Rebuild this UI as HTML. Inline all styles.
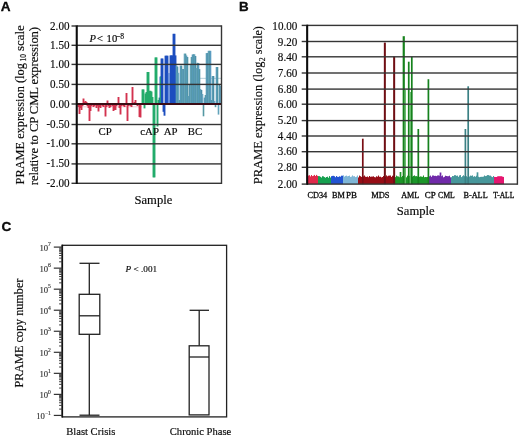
<!DOCTYPE html>
<html><head><meta charset="utf-8"><style>
html,body{margin:0;padding:0;background:#fff;}
svg{display:block;}
text{fill:#0a0a0a;stroke:#0a0a0a;stroke-width:0.16px;}
</style></head><body>
<svg width="520" height="437" viewBox="0 0 520 437">
<defs><filter id="bl" x="-5%" y="-5%" width="110%" height="110%"><feGaussianBlur stdDeviation="0.25"/></filter>
<filter id="gb" x="0" y="0" width="100%" height="100%"><feGaussianBlur stdDeviation="0.35"/></filter></defs>
<rect width="520" height="437" fill="#fff"/>
<g filter="url(#gb)">
<rect width="520" height="437" fill="#fff"/>
<g>
<text x="0.8" y="11.3" font-family="'Liberation Sans', sans-serif" font-weight="bold" font-size="13.6" style="stroke:#000;stroke-width:0.3px">A</text>
<text transform="translate(23.5,184.4) rotate(-90)" font-family="'Liberation Serif', serif" font-size="12.6" textLength="121.2" lengthAdjust="spacingAndGlyphs">PRAME expression (log</text>
<text transform="translate(25.6,61.6) rotate(-90)" font-family="'Liberation Serif', serif" font-size="7.8" textLength="7.6" lengthAdjust="spacingAndGlyphs">10</text>
<text transform="translate(23.5,51.1) rotate(-90)" font-family="'Liberation Serif', serif" font-size="12.6" textLength="25.9" lengthAdjust="spacingAndGlyphs">scale</text>
<text transform="translate(37.9,185.2) rotate(-90)" font-family="'Liberation Serif', serif" font-size="12.7" textLength="158.3">relative to CP CML expression)</text>
<rect x="199" y="77.8" width="22" height="1.1" fill="#bcd3dd"/>
<rect x="78" y="106.3" width="64" height="1.0" fill="#f0c4cc"/>
<g filter="url(#bl)">
<rect x="77.55" y="104.0" width="1.9" height="3.0" fill="#d3334f"/>
<rect x="78.55" y="104.0" width="1.9" height="10.0" fill="#d3334f"/>
<rect x="79.55" y="104.0" width="1.9" height="4.0" fill="#d3334f"/>
<rect x="80.55" y="104.0" width="1.9" height="6.0" fill="#d3334f"/>
<rect x="81.55" y="104.0" width="1.9" height="2.0" fill="#d3334f"/>
<rect x="82.55" y="98.5" width="1.9" height="5.5" fill="#d3334f"/>
<rect x="83.55" y="102.0" width="1.9" height="2.0" fill="#d3334f"/>
<rect x="84.55" y="101.0" width="1.9" height="3.0" fill="#d3334f"/>
<rect x="85.55" y="102.0" width="1.9" height="2.0" fill="#d3334f"/>
<rect x="86.55" y="104.0" width="1.9" height="2.0" fill="#d3334f"/>
<rect x="87.55" y="104.0" width="1.9" height="4.0" fill="#d3334f"/>
<rect x="88.55" y="104.0" width="1.9" height="17.0" fill="#d3334f"/>
<rect x="89.55" y="104.0" width="1.9" height="7.0" fill="#d3334f"/>
<rect x="90.55" y="104.0" width="1.9" height="2.0" fill="#d3334f"/>
<rect x="91.55" y="104.0" width="1.9" height="1.0" fill="#d3334f"/>
<rect x="92.55" y="104.0" width="1.9" height="3.0" fill="#d3334f"/>
<rect x="93.55" y="104.0" width="1.9" height="2.0" fill="#d3334f"/>
<rect x="94.55" y="104.0" width="1.9" height="1.0" fill="#d3334f"/>
<rect x="95.55" y="104.0" width="1.9" height="4.0" fill="#d3334f"/>
<rect x="96.55" y="104.0" width="1.9" height="2.0" fill="#d3334f"/>
<rect x="97.55" y="104.0" width="1.9" height="7.5" fill="#d3334f"/>
<rect x="98.55" y="104.0" width="1.9" height="3.0" fill="#d3334f"/>
<rect x="99.55" y="104.0" width="1.9" height="4.0" fill="#d3334f"/>
<rect x="100.55" y="104.0" width="1.9" height="1.0" fill="#d3334f"/>
<rect x="101.55" y="104.0" width="1.9" height="2.0" fill="#d3334f"/>
<rect x="102.55" y="104.0" width="1.9" height="3.0" fill="#d3334f"/>
<rect x="103.55" y="104.0" width="1.9" height="1.0" fill="#d3334f"/>
<rect x="104.55" y="104.0" width="1.9" height="12.5" fill="#d3334f"/>
<rect x="105.55" y="104.0" width="1.9" height="3.0" fill="#d3334f"/>
<rect x="106.55" y="100.5" width="1.9" height="3.5" fill="#d3334f"/>
<rect x="107.55" y="104.0" width="1.9" height="2.0" fill="#d3334f"/>
<rect x="108.55" y="104.0" width="1.9" height="4.0" fill="#d3334f"/>
<rect x="109.55" y="104.0" width="1.9" height="3.0" fill="#d3334f"/>
<rect x="110.55" y="104.0" width="1.9" height="1.0" fill="#d3334f"/>
<rect x="111.55" y="104.0" width="1.9" height="2.0" fill="#d3334f"/>
<rect x="112.55" y="104.0" width="1.9" height="7.0" fill="#d3334f"/>
<rect x="113.55" y="104.0" width="1.9" height="6.0" fill="#d3334f"/>
<rect x="114.55" y="104.0" width="1.9" height="6.0" fill="#d3334f"/>
<rect x="115.55" y="104.0" width="1.9" height="2.0" fill="#d3334f"/>
<rect x="116.55" y="104.0" width="1.9" height="1.0" fill="#d3334f"/>
<rect x="117.55" y="97.0" width="1.9" height="7.0" fill="#d3334f"/>
<rect x="118.55" y="104.0" width="1.9" height="4.0" fill="#d3334f"/>
<rect x="119.55" y="104.0" width="1.9" height="10.5" fill="#d3334f"/>
<rect x="120.55" y="104.0" width="1.9" height="2.0" fill="#d3334f"/>
<rect x="121.55" y="104.0" width="1.9" height="1.0" fill="#d3334f"/>
<rect x="122.55" y="104.0" width="1.9" height="2.0" fill="#d3334f"/>
<rect x="123.55" y="104.0" width="1.9" height="3.0" fill="#d3334f"/>
<rect x="124.55" y="104.0" width="1.9" height="1.0" fill="#d3334f"/>
<rect x="125.55" y="93.0" width="1.9" height="11.0" fill="#d3334f"/>
<rect x="126.55" y="104.0" width="1.9" height="17.0" fill="#d3334f"/>
<rect x="127.55" y="104.0" width="1.9" height="2.0" fill="#d3334f"/>
<rect x="128.55" y="104.0" width="1.9" height="1.0" fill="#d3334f"/>
<rect x="129.55" y="104.0" width="1.9" height="2.0" fill="#d3334f"/>
<rect x="130.55" y="104.0" width="1.9" height="3.0" fill="#d3334f"/>
<rect x="131.55" y="87.0" width="1.9" height="17.0" fill="#d3334f"/>
<rect x="132.55" y="104.0" width="1.9" height="0.5" fill="#d3334f"/>
<rect x="133.55" y="102.0" width="1.9" height="2.0" fill="#d3334f"/>
<rect x="134.55" y="100.0" width="1.9" height="4.0" fill="#d3334f"/>
<rect x="135.55" y="104.0" width="1.9" height="1.0" fill="#d3334f"/>
<rect x="136.55" y="104.0" width="1.9" height="2.0" fill="#d3334f"/>
<rect x="137.55" y="104.0" width="1.9" height="1.0" fill="#d3334f"/>
<rect x="138.55" y="104.0" width="1.9" height="13.0" fill="#d3334f"/>
<rect x="139.55" y="104.0" width="1.9" height="13.5" fill="#d3334f"/>
<rect x="140.55" y="103.0" width="1.9" height="1.0" fill="#d3334f"/>
<rect x="141.55" y="89.4" width="1.9" height="14.6" fill="#22ac6c"/>
<rect x="142.55" y="89.4" width="1.9" height="14.6" fill="#22ac6c"/>
<rect x="143.55" y="104.0" width="1.9" height="4.4" fill="#22ac6c"/>
<rect x="144.55" y="93.5" width="1.9" height="10.5" fill="#22ac6c"/>
<rect x="145.55" y="92.0" width="1.9" height="12.0" fill="#22ac6c"/>
<rect x="146.55" y="72.0" width="1.9" height="32.0" fill="#22ac6c"/>
<rect x="147.55" y="72.0" width="1.9" height="32.0" fill="#22ac6c"/>
<rect x="148.55" y="90.8" width="1.9" height="13.2" fill="#22ac6c"/>
<rect x="149.55" y="90.8" width="1.9" height="13.2" fill="#22ac6c"/>
<rect x="150.55" y="91.5" width="1.9" height="12.5" fill="#22ac6c"/>
<rect x="151.55" y="97.0" width="1.9" height="7.0" fill="#22ac6c"/>
<rect x="152.55" y="104.0" width="1.9" height="73.4" fill="#22ac6c"/>
<rect x="153.55" y="104.0" width="1.9" height="73.4" fill="#22ac6c"/>
<rect x="154.55" y="57.4" width="1.9" height="46.6" fill="#22ac6c"/>
<rect x="155.55" y="57.4" width="1.9" height="46.6" fill="#22ac6c"/>
<rect x="156.55" y="104.0" width="1.9" height="22.5" fill="#22ac6c"/>
<rect x="157.55" y="100.0" width="1.9" height="4.0" fill="#22ac6c"/>
<rect x="158.55" y="97.6" width="1.9" height="6.4" fill="#22ac6c"/>
<rect x="159.55" y="76.6" width="1.9" height="27.4" fill="#1f4fbf"/>
<rect x="160.55" y="58.5" width="1.9" height="45.5" fill="#1f4fbf"/>
<rect x="161.55" y="58.5" width="1.9" height="45.5" fill="#1f4fbf"/>
<rect x="162.55" y="104.0" width="1.9" height="7.8" fill="#1f4fbf"/>
<rect x="163.55" y="104.0" width="1.9" height="11.7" fill="#1f4fbf"/>
<rect x="164.55" y="55.7" width="1.9" height="48.3" fill="#1f4fbf"/>
<rect x="165.55" y="55.7" width="1.9" height="48.3" fill="#1f4fbf"/>
<rect x="166.55" y="55.7" width="1.9" height="48.3" fill="#1f4fbf"/>
<rect x="167.55" y="100.0" width="1.9" height="4.0" fill="#1f4fbf"/>
<rect x="168.55" y="100.0" width="1.9" height="4.0" fill="#1f4fbf"/>
<rect x="169.55" y="55.4" width="1.9" height="48.6" fill="#1f4fbf"/>
<rect x="170.55" y="55.4" width="1.9" height="48.6" fill="#1f4fbf"/>
<rect x="171.55" y="55.4" width="1.9" height="48.6" fill="#1f4fbf"/>
<rect x="172.55" y="33.8" width="1.9" height="70.2" fill="#1f4fbf"/>
<rect x="173.55" y="33.8" width="1.9" height="70.2" fill="#1f4fbf"/>
<rect x="174.55" y="55.4" width="1.9" height="48.6" fill="#1f4fbf"/>
<rect x="175.70" y="65.5" width="1.6" height="38.5" fill="#62a3bb"/>
<rect x="176.70" y="66.5" width="1.6" height="37.5" fill="#4b8fa8"/>
<rect x="177.70" y="72.8" width="1.6" height="31.2" fill="#6aa8c2"/>
<rect x="178.70" y="100.0" width="1.6" height="4.0" fill="#5598a3"/>
<rect x="179.70" y="65.6" width="1.6" height="38.4" fill="#5a9cc0"/>
<rect x="180.70" y="65.6" width="1.6" height="38.4" fill="#4f95a6"/>
<rect x="181.70" y="69.0" width="1.6" height="35.0" fill="#62a3bb"/>
<rect x="182.70" y="69.0" width="1.6" height="35.0" fill="#4b8fa8"/>
<rect x="183.70" y="53.6" width="1.6" height="50.4" fill="#6aa8c2"/>
<rect x="184.70" y="53.6" width="1.6" height="50.4" fill="#5598a3"/>
<rect x="185.70" y="55.5" width="1.6" height="48.5" fill="#5a9cc0"/>
<rect x="186.70" y="57.0" width="1.6" height="47.0" fill="#4f95a6"/>
<rect x="187.70" y="96.0" width="1.6" height="8.0" fill="#62a3bb"/>
<rect x="188.70" y="84.0" width="1.6" height="20.0" fill="#4b8fa8"/>
<rect x="189.70" y="65.0" width="1.6" height="39.0" fill="#6aa8c2"/>
<rect x="190.70" y="57.0" width="1.6" height="47.0" fill="#5598a3"/>
<rect x="191.70" y="54.5" width="1.6" height="49.5" fill="#5a9cc0"/>
<rect x="192.70" y="54.2" width="1.6" height="49.8" fill="#4f95a6"/>
<rect x="193.70" y="54.3" width="1.6" height="49.7" fill="#62a3bb"/>
<rect x="194.70" y="56.0" width="1.6" height="48.0" fill="#4b8fa8"/>
<rect x="195.70" y="68.0" width="1.6" height="36.0" fill="#6aa8c2"/>
<rect x="196.70" y="62.8" width="1.6" height="41.2" fill="#5598a3"/>
<rect x="197.70" y="63.0" width="1.6" height="41.0" fill="#5a9cc0"/>
<rect x="198.70" y="69.1" width="1.6" height="34.9" fill="#4f95a6"/>
<rect x="199.70" y="89.0" width="1.6" height="15.0" fill="#62a3bb"/>
<rect x="200.70" y="90.0" width="1.6" height="14.0" fill="#4b8fa8"/>
<rect x="201.70" y="94.0" width="1.6" height="10.0" fill="#6aa8c2"/>
<rect x="202.70" y="104.0" width="1.6" height="12.3" fill="#5598a3"/>
<rect x="203.70" y="97.6" width="1.6" height="6.4" fill="#5a9cc0"/>
<rect x="204.70" y="95.0" width="1.6" height="9.0" fill="#4f95a6"/>
<rect x="205.70" y="53.1" width="1.6" height="50.9" fill="#62a3bb"/>
<rect x="206.70" y="53.0" width="1.6" height="51.0" fill="#4b8fa8"/>
<rect x="207.70" y="50.8" width="1.6" height="53.2" fill="#6aa8c2"/>
<rect x="208.70" y="50.8" width="1.6" height="53.2" fill="#5598a3"/>
<rect x="209.70" y="50.8" width="1.6" height="53.2" fill="#5a9cc0"/>
<rect x="210.70" y="100.0" width="1.6" height="4.0" fill="#4f95a6"/>
<rect x="211.70" y="76.0" width="1.6" height="28.0" fill="#62a3bb"/>
<rect x="212.70" y="76.0" width="1.6" height="28.0" fill="#4b8fa8"/>
<rect x="213.70" y="101.0" width="1.6" height="3.0" fill="#6aa8c2"/>
<rect x="214.70" y="104.0" width="1.6" height="3.2" fill="#5598a3"/>
<rect x="215.70" y="67.0" width="1.6" height="37.0" fill="#5a9cc0"/>
<rect x="216.70" y="67.0" width="1.6" height="37.0" fill="#4f95a6"/>
<rect x="217.70" y="104.0" width="1.6" height="10.6" fill="#62a3bb"/>
<rect x="218.70" y="84.0" width="1.6" height="20.0" fill="#4b8fa8"/>
<rect x="219.70" y="86.0" width="1.6" height="18.0" fill="#6aa8c2"/>
<rect x="160" y="76.6" width="1" height="27.4" fill="#2a9486"/>
<rect x="167.9" y="73" width="2.0" height="31" fill="#6b90da"/>
</g>
<rect x="77.0" y="25.30" width="144.5" height="1.4" fill="#363636"/>
<rect x="71.5" y="25.30" width="5" height="1.4" fill="#363636"/>
<text transform="translate(69.5,29.55) scale(0.945,1)" text-anchor="end" font-family="'Liberation Serif', serif" font-size="11.75">2.00</text>
<rect x="77.0" y="44.60" width="144.5" height="1.4" fill="#363636"/>
<rect x="71.5" y="44.60" width="5" height="1.4" fill="#363636"/>
<text transform="translate(69.5,48.85) scale(0.945,1)" text-anchor="end" font-family="'Liberation Serif', serif" font-size="11.75">1.50</text>
<rect x="77.0" y="63.70" width="144.5" height="1.4" fill="#363636"/>
<rect x="71.5" y="63.70" width="5" height="1.4" fill="#363636"/>
<text transform="translate(69.5,67.95) scale(0.945,1)" text-anchor="end" font-family="'Liberation Serif', serif" font-size="11.75">1.00</text>
<rect x="77.0" y="83.70" width="144.5" height="1.4" fill="#363636"/>
<rect x="71.5" y="83.70" width="5" height="1.4" fill="#363636"/>
<text transform="translate(69.5,87.95) scale(0.945,1)" text-anchor="end" font-family="'Liberation Serif', serif" font-size="11.75">0.50</text>
<rect x="77.0" y="103.00" width="144.5" height="2" fill="#3a0d14"/>
<rect x="71.5" y="103.30" width="5" height="1.4" fill="#363636"/>
<text transform="translate(69.5,107.55) scale(0.945,1)" text-anchor="end" font-family="'Liberation Serif', serif" font-size="11.75">0.00</text>
<rect x="77.0" y="123.80" width="144.5" height="1.4" fill="#363636"/>
<rect x="71.5" y="123.80" width="5" height="1.4" fill="#363636"/>
<text transform="translate(69.5,128.05) scale(0.945,1)" text-anchor="end" font-family="'Liberation Serif', serif" font-size="11.75">-0.50</text>
<rect x="77.0" y="143.10" width="144.5" height="1.4" fill="#363636"/>
<rect x="71.5" y="143.10" width="5" height="1.4" fill="#363636"/>
<text transform="translate(69.5,147.35) scale(0.945,1)" text-anchor="end" font-family="'Liberation Serif', serif" font-size="11.75">-1.00</text>
<rect x="77.0" y="163.20" width="144.5" height="1.4" fill="#363636"/>
<rect x="71.5" y="163.20" width="5" height="1.4" fill="#363636"/>
<text transform="translate(69.5,167.45) scale(0.945,1)" text-anchor="end" font-family="'Liberation Serif', serif" font-size="11.75">-1.50</text>
<rect x="77.0" y="182.60" width="144.5" height="1.4" fill="#363636"/>
<rect x="71.5" y="182.60" width="5" height="1.4" fill="#363636"/>
<text transform="translate(69.5,186.85) scale(0.945,1)" text-anchor="end" font-family="'Liberation Serif', serif" font-size="11.75">-2.00</text>
<rect x="75.7" y="25.30" width="2.1" height="158.70" fill="#111"/>
<rect x="220.8" y="25.30" width="1.4" height="158.70" fill="#363636"/>
<text x="98.5" y="135" font-family="'Liberation Serif', serif" font-size="10.8">CP</text>
<text x="140.3" y="135" font-family="'Liberation Serif', serif" font-size="10.8">cAP</text>
<text x="163.8" y="135" font-family="'Liberation Serif', serif" font-size="10.8">AP</text>
<text x="187.8" y="135" font-family="'Liberation Serif', serif" font-size="10.8">BC</text>
<text x="89.4" y="41.6" font-family="'Liberation Serif', serif" font-size="10.6" font-style="italic">P</text>
<text x="96.9" y="41.6" font-family="'Liberation Serif', serif" font-size="10.6">&lt;</text>
<text x="106.6" y="41.6" font-family="'Liberation Serif', serif" font-size="10.6">10</text>
<text x="116.0" y="38.6" font-family="'Liberation Serif', serif" font-size="7.6">&#8722;8</text>
<text x="134.5" y="204.2" font-family="'Liberation Serif', serif" font-size="12.6">Sample</text>
</g>
<g>
<text x="239.0" y="10.6" font-family="'Liberation Sans', sans-serif" font-weight="bold" font-size="13.4" style="stroke:#000;stroke-width:0.3px">B</text>
<text transform="translate(262.2,184.2) rotate(-90)" font-family="'Liberation Serif', serif" font-size="12.45" textLength="122.7" lengthAdjust="spacingAndGlyphs">PRAME expression (log</text>
<text transform="translate(264.8,61.2) rotate(-90)" font-family="'Liberation Serif', serif" font-size="7.8" textLength="3.9" lengthAdjust="spacingAndGlyphs">2</text>
<text transform="translate(262.2,54.2) rotate(-90)" font-family="'Liberation Serif', serif" font-size="12.45" textLength="28.0" lengthAdjust="spacingAndGlyphs">scale)</text>
<g filter="url(#bl)">
<rect x="308" y="175.6" width="1" height="8.5" fill="#e0294b"/>
<rect x="309" y="175.2" width="1" height="8.9" fill="#e0294b"/>
<rect x="310" y="176.4" width="1" height="7.7" fill="#e0294b"/>
<rect x="311" y="175.0" width="1" height="9.1" fill="#e0294b"/>
<rect x="312" y="176.1" width="1" height="8.0" fill="#e0294b"/>
<rect x="313" y="175.7" width="1" height="8.4" fill="#e0294b"/>
<rect x="314" y="174.9" width="1" height="9.2" fill="#e0294b"/>
<rect x="315" y="176.0" width="1" height="8.1" fill="#e0294b"/>
<rect x="316" y="174.9" width="1" height="9.2" fill="#e0294b"/>
<rect x="317" y="175.8" width="1" height="8.3" fill="#e0294b"/>
<rect x="318" y="176.1" width="1" height="8.0" fill="#15a04f"/>
<rect x="319" y="176.2" width="1" height="7.9" fill="#15a04f"/>
<rect x="320" y="176.8" width="1" height="7.3" fill="#15a04f"/>
<rect x="321" y="177.5" width="1" height="6.6" fill="#15a04f"/>
<rect x="322" y="176.2" width="1" height="7.9" fill="#15a04f"/>
<rect x="323" y="176.4" width="1" height="7.7" fill="#15a04f"/>
<rect x="324" y="177.1" width="1" height="7.0" fill="#15a04f"/>
<rect x="325" y="177.7" width="1" height="6.4" fill="#15a04f"/>
<rect x="326" y="177.0" width="1" height="7.1" fill="#15a04f"/>
<rect x="327" y="176.7" width="1" height="7.4" fill="#15a04f"/>
<rect x="328" y="177.8" width="1" height="6.3" fill="#15a04f"/>
<rect x="329" y="176.1" width="1" height="8.0" fill="#15a04f"/>
<rect x="330" y="177.5" width="1" height="6.6" fill="#15a04f"/>
<rect x="331" y="176.2" width="1" height="7.9" fill="#2152d2"/>
<rect x="332" y="175.9" width="1" height="8.2" fill="#2152d2"/>
<rect x="333" y="175.8" width="1" height="8.3" fill="#2152d2"/>
<rect x="334" y="176.2" width="1" height="7.9" fill="#2152d2"/>
<rect x="335" y="177.2" width="1" height="6.9" fill="#2152d2"/>
<rect x="336" y="176.0" width="1" height="8.1" fill="#2152d2"/>
<rect x="337" y="176.8" width="1" height="7.3" fill="#2152d2"/>
<rect x="338" y="176.9" width="1" height="7.2" fill="#2152d2"/>
<rect x="339" y="176.3" width="1" height="7.8" fill="#2152d2"/>
<rect x="340" y="176.7" width="1" height="7.4" fill="#2152d2"/>
<rect x="341" y="175.7" width="1" height="8.4" fill="#2152d2"/>
<rect x="342" y="175.7" width="1" height="8.4" fill="#2152d2"/>
<rect x="343" y="175.3" width="1" height="8.8" fill="#7fb6d6"/>
<rect x="344" y="176.6" width="1" height="7.5" fill="#7fb6d6"/>
<rect x="345" y="175.9" width="1" height="8.2" fill="#7fb6d6"/>
<rect x="346" y="175.6" width="1" height="8.5" fill="#7fb6d6"/>
<rect x="347" y="176.3" width="1" height="7.8" fill="#7fb6d6"/>
<rect x="348" y="176.0" width="1" height="8.1" fill="#7fb6d6"/>
<rect x="349" y="175.6" width="1" height="8.5" fill="#7fb6d6"/>
<rect x="350" y="176.9" width="1" height="7.2" fill="#7fb6d6"/>
<rect x="351" y="176.6" width="1" height="7.5" fill="#7fb6d6"/>
<rect x="352" y="175.4" width="1" height="8.7" fill="#7fb6d6"/>
<rect x="353" y="176.3" width="1" height="7.8" fill="#7fb6d6"/>
<rect x="354" y="176.2" width="1" height="7.9" fill="#7fb6d6"/>
<rect x="355" y="177.1" width="1" height="7.0" fill="#7fb6d6"/>
<rect x="356" y="176.7" width="1" height="7.4" fill="#7fb6d6"/>
<rect x="357" y="175.5" width="1" height="8.6" fill="#7fb6d6"/>
<rect x="358" y="177.4" width="1" height="6.7" fill="#971018"/>
<rect x="359" y="175.6" width="1" height="8.5" fill="#971018"/>
<rect x="360" y="176.2" width="1" height="7.9" fill="#971018"/>
<rect x="361" y="176.9" width="1" height="7.2" fill="#971018"/>
<rect x="362" y="175.7" width="1" height="8.4" fill="#971018"/>
<rect x="363" y="176.4" width="1" height="7.7" fill="#971018"/>
<rect x="364" y="175.5" width="1" height="8.6" fill="#971018"/>
<rect x="365" y="176.7" width="1" height="7.4" fill="#971018"/>
<rect x="366" y="176.9" width="1" height="7.2" fill="#971018"/>
<rect x="367" y="176.5" width="1" height="7.6" fill="#971018"/>
<rect x="368" y="177.2" width="1" height="6.9" fill="#971018"/>
<rect x="369" y="176.0" width="1" height="8.1" fill="#971018"/>
<rect x="370" y="176.8" width="1" height="7.3" fill="#971018"/>
<rect x="371" y="176.6" width="1" height="7.5" fill="#971018"/>
<rect x="372" y="176.6" width="1" height="7.5" fill="#971018"/>
<rect x="373" y="176.3" width="1" height="7.8" fill="#971018"/>
<rect x="374" y="177.1" width="1" height="7.0" fill="#971018"/>
<rect x="375" y="177.3" width="1" height="6.8" fill="#971018"/>
<rect x="376" y="176.3" width="1" height="7.8" fill="#971018"/>
<rect x="377" y="176.7" width="1" height="7.4" fill="#971018"/>
<rect x="378" y="175.5" width="1" height="8.6" fill="#971018"/>
<rect x="379" y="176.8" width="1" height="7.3" fill="#971018"/>
<rect x="380" y="176.7" width="1" height="7.4" fill="#971018"/>
<rect x="381" y="177.4" width="1" height="6.7" fill="#971018"/>
<rect x="382" y="177.0" width="1" height="7.1" fill="#971018"/>
<rect x="383" y="176.0" width="1" height="8.1" fill="#971018"/>
<rect x="384" y="176.2" width="1" height="7.9" fill="#971018"/>
<rect x="385" y="176.7" width="1" height="7.4" fill="#971018"/>
<rect x="386" y="175.4" width="1" height="8.7" fill="#971018"/>
<rect x="387" y="176.3" width="1" height="7.8" fill="#971018"/>
<rect x="388" y="175.7" width="1" height="8.4" fill="#971018"/>
<rect x="389" y="175.6" width="1" height="8.5" fill="#971018"/>
<rect x="390" y="175.5" width="1" height="8.6" fill="#971018"/>
<rect x="391" y="176.9" width="1" height="7.2" fill="#971018"/>
<rect x="392" y="175.7" width="1" height="8.4" fill="#971018"/>
<rect x="393" y="175.9" width="1" height="8.2" fill="#971018"/>
<rect x="394" y="176.2" width="1" height="7.9" fill="#1f9629"/>
<rect x="395" y="177.1" width="1" height="7.0" fill="#1f9629"/>
<rect x="396" y="175.6" width="1" height="8.5" fill="#1f9629"/>
<rect x="397" y="176.3" width="1" height="7.8" fill="#1f9629"/>
<rect x="398" y="176.5" width="1" height="7.6" fill="#1f9629"/>
<rect x="399" y="177.2" width="1" height="6.9" fill="#1f9629"/>
<rect x="400" y="177.0" width="1" height="7.1" fill="#1f9629"/>
<rect x="401" y="177.1" width="1" height="7.0" fill="#1f9629"/>
<rect x="402" y="176.0" width="1" height="8.1" fill="#1f9629"/>
<rect x="403" y="176.2" width="1" height="7.9" fill="#1f9629"/>
<rect x="404" y="176.1" width="1" height="8.0" fill="#1f9629"/>
<rect x="405" y="177.2" width="1" height="6.9" fill="#1f9629"/>
<rect x="406" y="177.3" width="1" height="6.8" fill="#1f9629"/>
<rect x="407" y="175.7" width="1" height="8.4" fill="#1f9629"/>
<rect x="408" y="175.8" width="1" height="8.3" fill="#1f9629"/>
<rect x="409" y="175.9" width="1" height="8.2" fill="#1f9629"/>
<rect x="410" y="175.9" width="1" height="8.2" fill="#1f9629"/>
<rect x="411" y="176.4" width="1" height="7.7" fill="#1f9629"/>
<rect x="412" y="176.6" width="1" height="7.5" fill="#1f9629"/>
<rect x="413" y="175.9" width="1" height="8.2" fill="#1f9629"/>
<rect x="414" y="175.4" width="1" height="8.7" fill="#1f9629"/>
<rect x="415" y="176.2" width="1" height="7.9" fill="#1f9629"/>
<rect x="416" y="176.1" width="1" height="8.0" fill="#1f9629"/>
<rect x="417" y="176.5" width="1" height="7.6" fill="#1f9629"/>
<rect x="418" y="177.3" width="1" height="6.8" fill="#1f9629"/>
<rect x="419" y="176.8" width="1" height="7.3" fill="#1f9629"/>
<rect x="420" y="176.4" width="1" height="7.7" fill="#1f9629"/>
<rect x="421" y="176.6" width="1" height="7.5" fill="#1f9629"/>
<rect x="422" y="176.8" width="1" height="7.3" fill="#1f9629"/>
<rect x="423" y="175.5" width="1" height="8.6" fill="#1f9629"/>
<rect x="424" y="177.2" width="1" height="6.9" fill="#1f9629"/>
<rect x="425" y="177.0" width="1" height="7.1" fill="#1f9629"/>
<rect x="426" y="177.1" width="1" height="7.0" fill="#1f9629"/>
<rect x="427" y="177.0" width="1" height="7.1" fill="#1f9629"/>
<rect x="428" y="176.2" width="1" height="7.9" fill="#1f9629"/>
<rect x="429" y="176.3" width="1" height="7.8" fill="#6f2aa9"/>
<rect x="430" y="175.6" width="1" height="8.5" fill="#6f2aa9"/>
<rect x="431" y="176.8" width="1" height="7.3" fill="#6f2aa9"/>
<rect x="432" y="175.5" width="1" height="8.6" fill="#6f2aa9"/>
<rect x="433" y="175.5" width="1" height="8.6" fill="#6f2aa9"/>
<rect x="434" y="175.9" width="1" height="8.2" fill="#6f2aa9"/>
<rect x="435" y="175.8" width="1" height="8.3" fill="#6f2aa9"/>
<rect x="436" y="176.1" width="1" height="8.0" fill="#6f2aa9"/>
<rect x="437" y="175.5" width="1" height="8.6" fill="#6f2aa9"/>
<rect x="438" y="175.4" width="1" height="8.7" fill="#6f2aa9"/>
<rect x="439" y="175.7" width="1" height="8.4" fill="#6f2aa9"/>
<rect x="440" y="175.6" width="1" height="8.5" fill="#6f2aa9"/>
<rect x="441" y="176.2" width="1" height="7.9" fill="#6f2aa9"/>
<rect x="442" y="175.5" width="1" height="8.6" fill="#6f2aa9"/>
<rect x="443" y="177.3" width="1" height="6.8" fill="#6f2aa9"/>
<rect x="444" y="176.8" width="1" height="7.3" fill="#6f2aa9"/>
<rect x="445" y="175.7" width="1" height="8.4" fill="#6f2aa9"/>
<rect x="446" y="176.0" width="1" height="8.1" fill="#6f2aa9"/>
<rect x="447" y="176.2" width="1" height="7.9" fill="#6f2aa9"/>
<rect x="448" y="176.2" width="1" height="7.9" fill="#6f2aa9"/>
<rect x="449" y="175.7" width="1" height="8.4" fill="#6f2aa9"/>
<rect x="450" y="177.3" width="1" height="6.8" fill="#6f2aa9"/>
<rect x="451" y="177.2" width="1" height="6.9" fill="#47979b"/>
<rect x="452" y="176.0" width="1" height="8.1" fill="#47979b"/>
<rect x="453" y="176.1" width="1" height="8.0" fill="#47979b"/>
<rect x="454" y="175.2" width="1" height="8.9" fill="#47979b"/>
<rect x="455" y="175.2" width="1" height="8.9" fill="#47979b"/>
<rect x="456" y="175.8" width="1" height="8.3" fill="#47979b"/>
<rect x="457" y="175.6" width="1" height="8.5" fill="#47979b"/>
<rect x="458" y="176.8" width="1" height="7.3" fill="#47979b"/>
<rect x="459" y="175.4" width="1" height="8.7" fill="#47979b"/>
<rect x="460" y="175.1" width="1" height="9.0" fill="#47979b"/>
<rect x="461" y="177.1" width="1" height="7.0" fill="#47979b"/>
<rect x="462" y="176.2" width="1" height="7.9" fill="#47979b"/>
<rect x="463" y="175.3" width="1" height="8.8" fill="#47979b"/>
<rect x="464" y="176.2" width="1" height="7.9" fill="#47979b"/>
<rect x="465" y="175.1" width="1" height="9.0" fill="#47979b"/>
<rect x="466" y="176.2" width="1" height="7.9" fill="#47979b"/>
<rect x="467" y="177.2" width="1" height="6.9" fill="#47979b"/>
<rect x="468" y="176.9" width="1" height="7.2" fill="#47979b"/>
<rect x="469" y="176.5" width="1" height="7.6" fill="#47979b"/>
<rect x="470" y="175.6" width="1" height="8.5" fill="#47979b"/>
<rect x="471" y="175.8" width="1" height="8.3" fill="#47979b"/>
<rect x="472" y="175.4" width="1" height="8.7" fill="#47979b"/>
<rect x="473" y="176.7" width="1" height="7.4" fill="#47979b"/>
<rect x="474" y="176.2" width="1" height="7.9" fill="#47979b"/>
<rect x="475" y="176.7" width="1" height="7.4" fill="#47979b"/>
<rect x="476" y="175.7" width="1" height="8.4" fill="#47979b"/>
<rect x="477" y="175.5" width="1" height="8.6" fill="#47979b"/>
<rect x="478" y="176.8" width="1" height="7.3" fill="#47979b"/>
<rect x="479" y="177.2" width="1" height="6.9" fill="#47979b"/>
<rect x="480" y="176.9" width="1" height="7.2" fill="#47979b"/>
<rect x="481" y="176.8" width="1" height="7.3" fill="#47979b"/>
<rect x="482" y="176.8" width="1" height="7.3" fill="#47979b"/>
<rect x="483" y="176.6" width="1" height="7.5" fill="#47979b"/>
<rect x="484" y="175.5" width="1" height="8.6" fill="#47979b"/>
<rect x="485" y="176.1" width="1" height="8.0" fill="#47979b"/>
<rect x="486" y="175.8" width="1" height="8.3" fill="#47979b"/>
<rect x="487" y="175.1" width="1" height="9.0" fill="#47979b"/>
<rect x="488" y="175.1" width="1" height="9.0" fill="#47979b"/>
<rect x="489" y="175.6" width="1" height="8.5" fill="#47979b"/>
<rect x="490" y="175.6" width="1" height="8.5" fill="#47979b"/>
<rect x="491" y="176.5" width="1" height="7.6" fill="#47979b"/>
<rect x="492" y="177.1" width="1" height="7.0" fill="#47979b"/>
<rect x="493" y="176.0" width="1" height="8.1" fill="#47979b"/>
<rect x="494" y="176.9" width="1" height="7.2" fill="#e5176f"/>
<rect x="495" y="177.0" width="1" height="7.1" fill="#e5176f"/>
<rect x="496" y="177.0" width="1" height="7.1" fill="#e5176f"/>
<rect x="497" y="176.4" width="1" height="7.7" fill="#e5176f"/>
<rect x="498" y="176.2" width="1" height="7.9" fill="#e5176f"/>
<rect x="499" y="176.2" width="1" height="7.9" fill="#e5176f"/>
<rect x="500" y="176.2" width="1" height="7.9" fill="#e5176f"/>
<rect x="501" y="176.2" width="1" height="7.9" fill="#e5176f"/>
<rect x="502" y="176.6" width="1" height="7.5" fill="#e5176f"/>
<rect x="503" y="176.9" width="1" height="7.2" fill="#e5176f"/>
<rect x="361.95" y="138.7" width="1.7" height="45.4" fill="#7a0c14"/>
<rect x="383.85" y="42.6" width="2.0" height="141.5" fill="#700c12"/>
<rect x="393.15" y="56.6" width="2.0" height="127.5" fill="#700c12"/>
<rect x="399.65" y="172.0" width="1.7" height="12.1" fill="#1f9629"/>
<rect x="402.65" y="36.2" width="2.2" height="147.9" fill="#17821f"/>
<rect x="407.90" y="61.7" width="1.7" height="122.4" fill="#17821f"/>
<rect x="410.95" y="56.7" width="1.7" height="127.4" fill="#17821f"/>
<rect x="417.45" y="129.0" width="1.7" height="55.1" fill="#17821f"/>
<rect x="427.55" y="79.2" width="1.7" height="104.9" fill="#17821f"/>
<rect x="439.65" y="172.5" width="1.7" height="11.6" fill="#6f2aa9"/>
<rect x="464.55" y="129.0" width="1.7" height="55.1" fill="#3a8084"/>
<rect x="467.35" y="86.3" width="1.7" height="97.8" fill="#3a8084"/>
<rect x="476.65" y="172.3" width="1.7" height="11.8" fill="#47979b"/>
<rect x="404.65" y="90.0" width="1.3" height="94.1" fill="#62b866"/>
<rect x="409.65" y="92.0" width="1.3" height="92.1" fill="#62b866"/>
</g>
<rect x="307.0" y="24.70" width="210.4" height="1.4" fill="#363636"/>
<rect x="301.7" y="24.70" width="5" height="1.4" fill="#363636"/>
<text transform="translate(297.3,29.95) scale(0.945,1)" text-anchor="end" font-family="'Liberation Serif', serif" font-size="11.75">10.00</text>
<rect x="307.0" y="40.80" width="210.4" height="1.4" fill="#363636"/>
<rect x="301.7" y="40.80" width="5" height="1.4" fill="#363636"/>
<text transform="translate(297.3,46.05) scale(0.945,1)" text-anchor="end" font-family="'Liberation Serif', serif" font-size="11.75">9.20</text>
<rect x="307.0" y="56.10" width="210.4" height="1.4" fill="#363636"/>
<rect x="301.7" y="56.10" width="5" height="1.4" fill="#363636"/>
<text transform="translate(297.3,61.35) scale(0.945,1)" text-anchor="end" font-family="'Liberation Serif', serif" font-size="11.75">8.40</text>
<rect x="307.0" y="72.30" width="210.4" height="1.4" fill="#363636"/>
<rect x="301.7" y="72.30" width="5" height="1.4" fill="#363636"/>
<text transform="translate(297.3,76.95) scale(0.945,1)" text-anchor="end" font-family="'Liberation Serif', serif" font-size="11.75">7.60</text>
<rect x="307.0" y="88.40" width="210.4" height="1.4" fill="#363636"/>
<rect x="301.7" y="88.40" width="5" height="1.4" fill="#363636"/>
<text transform="translate(297.3,92.65) scale(0.945,1)" text-anchor="end" font-family="'Liberation Serif', serif" font-size="11.75">6.80</text>
<rect x="307.0" y="103.50" width="210.4" height="1.4" fill="#363636"/>
<rect x="301.7" y="103.50" width="5" height="1.4" fill="#363636"/>
<text transform="translate(297.3,107.75) scale(0.945,1)" text-anchor="end" font-family="'Liberation Serif', serif" font-size="11.75">6.00</text>
<rect x="307.0" y="119.90" width="210.4" height="1.4" fill="#363636"/>
<rect x="301.7" y="119.90" width="5" height="1.4" fill="#363636"/>
<text transform="translate(297.3,124.15) scale(0.945,1)" text-anchor="end" font-family="'Liberation Serif', serif" font-size="11.75">5.20</text>
<rect x="307.0" y="135.30" width="210.4" height="1.4" fill="#363636"/>
<rect x="301.7" y="135.30" width="5" height="1.4" fill="#363636"/>
<text transform="translate(297.3,139.55) scale(0.945,1)" text-anchor="end" font-family="'Liberation Serif', serif" font-size="11.75">4.40</text>
<rect x="307.0" y="151.00" width="210.4" height="1.4" fill="#363636"/>
<rect x="301.7" y="151.00" width="5" height="1.4" fill="#363636"/>
<text transform="translate(297.3,155.25) scale(0.945,1)" text-anchor="end" font-family="'Liberation Serif', serif" font-size="11.75">3.60</text>
<rect x="307.0" y="166.60" width="210.4" height="1.4" fill="#363636"/>
<rect x="301.7" y="166.60" width="5" height="1.4" fill="#363636"/>
<text transform="translate(297.3,170.85) scale(0.945,1)" text-anchor="end" font-family="'Liberation Serif', serif" font-size="11.75">2.80</text>
<rect x="307.0" y="183.40" width="210.4" height="1.4" fill="#363636"/>
<rect x="301.7" y="183.40" width="5" height="1.4" fill="#363636"/>
<text transform="translate(297.3,187.65) scale(0.945,1)" text-anchor="end" font-family="'Liberation Serif', serif" font-size="11.75">2.00</text>
<rect x="306.1" y="24.70" width="2.1" height="160.10" fill="#111"/>
<rect x="516.7" y="24.70" width="1.4" height="160.10" fill="#363636"/>
<text x="307.4" y="197.9" font-family="'Liberation Serif', serif" font-size="8.6" textLength="19.8" lengthAdjust="spacingAndGlyphs" style="stroke-width:0.3px">CD34</text>
<text x="332.0" y="197.9" font-family="'Liberation Serif', serif" font-size="8.6" textLength="12.9" lengthAdjust="spacingAndGlyphs" style="stroke-width:0.3px">BM</text>
<text x="345.9" y="197.9" font-family="'Liberation Serif', serif" font-size="8.6" textLength="11.0" lengthAdjust="spacingAndGlyphs" style="stroke-width:0.3px">PB</text>
<text x="371.2" y="197.9" font-family="'Liberation Serif', serif" font-size="8.6" textLength="18.4" lengthAdjust="spacingAndGlyphs" style="stroke-width:0.3px">MDS</text>
<text x="401.2" y="197.9" font-family="'Liberation Serif', serif" font-size="8.6" textLength="18.1" lengthAdjust="spacingAndGlyphs" style="stroke-width:0.3px">AML</text>
<text x="424.7" y="197.9" font-family="'Liberation Serif', serif" font-size="8.6" textLength="10.9" lengthAdjust="spacingAndGlyphs" style="stroke-width:0.3px">CP</text>
<text x="438.0" y="197.9" font-family="'Liberation Serif', serif" font-size="8.6" textLength="16.8" lengthAdjust="spacingAndGlyphs" style="stroke-width:0.3px">CML</text>
<text x="463.4" y="197.9" font-family="'Liberation Serif', serif" font-size="8.6" textLength="24.3" lengthAdjust="spacingAndGlyphs" style="stroke-width:0.3px">B-ALL</text>
<text x="493.3" y="197.9" font-family="'Liberation Serif', serif" font-size="8.6" textLength="21.0" lengthAdjust="spacingAndGlyphs" style="stroke-width:0.3px">T-ALL</text>
<text x="396.8" y="214.6" font-family="'Liberation Serif', serif" font-size="12.6">Sample</text>
</g>
<g>
<text x="1.5" y="231.1" font-family="'Liberation Sans', sans-serif" font-weight="bold" font-size="13.6" style="stroke:#000;stroke-width:0.3px">C</text>
<text transform="translate(22.9,387.6) rotate(-90)" font-family="'Liberation Serif', serif" font-size="12.2" textLength="109.0">PRAME copy number</text>
<rect x="62.3" y="245.3" width="164.3" height="171.59999999999997" fill="none" stroke="#222" stroke-width="1.3"/>
<rect x="61.50" y="244.70" width="1.6" height="172.80" fill="#111"/>
<rect x="53.8" y="246.50" width="8.5" height="1.2" fill="#333"/>
<text x="50.9" y="251.00" text-anchor="end" font-family="'Liberation Serif', serif" font-size="8.7" style="fill:#333;stroke:#333">10<tspan font-size="5.6" dy="-4.6">7</tspan></text>
<rect x="59.1" y="261.31" width="3.2" height="1" fill="#3a3a3a"/>
<rect x="59.1" y="257.60" width="3.2" height="1" fill="#3a3a3a"/>
<rect x="59.1" y="254.97" width="3.2" height="1" fill="#3a3a3a"/>
<rect x="59.1" y="252.93" width="3.2" height="1" fill="#3a3a3a"/>
<rect x="59.1" y="251.27" width="3.2" height="1" fill="#3a3a3a"/>
<rect x="59.1" y="249.86" width="3.2" height="1" fill="#3a3a3a"/>
<rect x="59.1" y="248.64" width="3.2" height="1" fill="#3a3a3a"/>
<rect x="59.1" y="247.56" width="3.2" height="1" fill="#3a3a3a"/>
<rect x="53.8" y="267.54" width="8.5" height="1.2" fill="#333"/>
<text x="50.9" y="272.04" text-anchor="end" font-family="'Liberation Serif', serif" font-size="8.7" style="fill:#333;stroke:#333">10<tspan font-size="5.6" dy="-4.6">6</tspan></text>
<rect x="59.1" y="282.35" width="3.2" height="1" fill="#3a3a3a"/>
<rect x="59.1" y="278.64" width="3.2" height="1" fill="#3a3a3a"/>
<rect x="59.1" y="276.01" width="3.2" height="1" fill="#3a3a3a"/>
<rect x="59.1" y="273.97" width="3.2" height="1" fill="#3a3a3a"/>
<rect x="59.1" y="272.31" width="3.2" height="1" fill="#3a3a3a"/>
<rect x="59.1" y="270.90" width="3.2" height="1" fill="#3a3a3a"/>
<rect x="59.1" y="269.68" width="3.2" height="1" fill="#3a3a3a"/>
<rect x="59.1" y="268.60" width="3.2" height="1" fill="#3a3a3a"/>
<rect x="53.8" y="288.58" width="8.5" height="1.2" fill="#333"/>
<text x="50.9" y="293.08" text-anchor="end" font-family="'Liberation Serif', serif" font-size="8.7" style="fill:#333;stroke:#333">10<tspan font-size="5.6" dy="-4.6">5</tspan></text>
<rect x="59.1" y="303.39" width="3.2" height="1" fill="#3a3a3a"/>
<rect x="59.1" y="299.68" width="3.2" height="1" fill="#3a3a3a"/>
<rect x="59.1" y="297.05" width="3.2" height="1" fill="#3a3a3a"/>
<rect x="59.1" y="295.01" width="3.2" height="1" fill="#3a3a3a"/>
<rect x="59.1" y="293.35" width="3.2" height="1" fill="#3a3a3a"/>
<rect x="59.1" y="291.94" width="3.2" height="1" fill="#3a3a3a"/>
<rect x="59.1" y="290.72" width="3.2" height="1" fill="#3a3a3a"/>
<rect x="59.1" y="289.64" width="3.2" height="1" fill="#3a3a3a"/>
<rect x="53.8" y="309.62" width="8.5" height="1.2" fill="#333"/>
<text x="50.9" y="314.12" text-anchor="end" font-family="'Liberation Serif', serif" font-size="8.7" style="fill:#333;stroke:#333">10<tspan font-size="5.6" dy="-4.6">4</tspan></text>
<rect x="59.1" y="324.43" width="3.2" height="1" fill="#3a3a3a"/>
<rect x="59.1" y="320.72" width="3.2" height="1" fill="#3a3a3a"/>
<rect x="59.1" y="318.09" width="3.2" height="1" fill="#3a3a3a"/>
<rect x="59.1" y="316.05" width="3.2" height="1" fill="#3a3a3a"/>
<rect x="59.1" y="314.39" width="3.2" height="1" fill="#3a3a3a"/>
<rect x="59.1" y="312.98" width="3.2" height="1" fill="#3a3a3a"/>
<rect x="59.1" y="311.76" width="3.2" height="1" fill="#3a3a3a"/>
<rect x="59.1" y="310.68" width="3.2" height="1" fill="#3a3a3a"/>
<rect x="53.8" y="330.66" width="8.5" height="1.2" fill="#333"/>
<text x="50.9" y="335.16" text-anchor="end" font-family="'Liberation Serif', serif" font-size="8.7" style="fill:#333;stroke:#333">10<tspan font-size="5.6" dy="-4.6">3</tspan></text>
<rect x="59.1" y="345.47" width="3.2" height="1" fill="#3a3a3a"/>
<rect x="59.1" y="341.76" width="3.2" height="1" fill="#3a3a3a"/>
<rect x="59.1" y="339.13" width="3.2" height="1" fill="#3a3a3a"/>
<rect x="59.1" y="337.09" width="3.2" height="1" fill="#3a3a3a"/>
<rect x="59.1" y="335.43" width="3.2" height="1" fill="#3a3a3a"/>
<rect x="59.1" y="334.02" width="3.2" height="1" fill="#3a3a3a"/>
<rect x="59.1" y="332.80" width="3.2" height="1" fill="#3a3a3a"/>
<rect x="59.1" y="331.72" width="3.2" height="1" fill="#3a3a3a"/>
<rect x="53.8" y="351.70" width="8.5" height="1.2" fill="#333"/>
<text x="50.9" y="356.20" text-anchor="end" font-family="'Liberation Serif', serif" font-size="8.7" style="fill:#333;stroke:#333">10<tspan font-size="5.6" dy="-4.6">2</tspan></text>
<rect x="59.1" y="366.51" width="3.2" height="1" fill="#3a3a3a"/>
<rect x="59.1" y="362.80" width="3.2" height="1" fill="#3a3a3a"/>
<rect x="59.1" y="360.17" width="3.2" height="1" fill="#3a3a3a"/>
<rect x="59.1" y="358.13" width="3.2" height="1" fill="#3a3a3a"/>
<rect x="59.1" y="356.47" width="3.2" height="1" fill="#3a3a3a"/>
<rect x="59.1" y="355.06" width="3.2" height="1" fill="#3a3a3a"/>
<rect x="59.1" y="353.84" width="3.2" height="1" fill="#3a3a3a"/>
<rect x="59.1" y="352.76" width="3.2" height="1" fill="#3a3a3a"/>
<rect x="53.8" y="372.74" width="8.5" height="1.2" fill="#333"/>
<text x="50.9" y="377.24" text-anchor="end" font-family="'Liberation Serif', serif" font-size="8.7" style="fill:#333;stroke:#333">10<tspan font-size="5.6" dy="-4.6">1</tspan></text>
<rect x="59.1" y="387.55" width="3.2" height="1" fill="#3a3a3a"/>
<rect x="59.1" y="383.84" width="3.2" height="1" fill="#3a3a3a"/>
<rect x="59.1" y="381.21" width="3.2" height="1" fill="#3a3a3a"/>
<rect x="59.1" y="379.17" width="3.2" height="1" fill="#3a3a3a"/>
<rect x="59.1" y="377.51" width="3.2" height="1" fill="#3a3a3a"/>
<rect x="59.1" y="376.10" width="3.2" height="1" fill="#3a3a3a"/>
<rect x="59.1" y="374.88" width="3.2" height="1" fill="#3a3a3a"/>
<rect x="59.1" y="373.80" width="3.2" height="1" fill="#3a3a3a"/>
<rect x="53.8" y="393.78" width="8.5" height="1.2" fill="#333"/>
<text x="50.9" y="398.28" text-anchor="end" font-family="'Liberation Serif', serif" font-size="8.7" style="fill:#333;stroke:#333">10<tspan font-size="5.6" dy="-4.6">0</tspan></text>
<rect x="59.1" y="408.59" width="3.2" height="1" fill="#3a3a3a"/>
<rect x="59.1" y="404.88" width="3.2" height="1" fill="#3a3a3a"/>
<rect x="59.1" y="402.25" width="3.2" height="1" fill="#3a3a3a"/>
<rect x="59.1" y="400.21" width="3.2" height="1" fill="#3a3a3a"/>
<rect x="59.1" y="398.55" width="3.2" height="1" fill="#3a3a3a"/>
<rect x="59.1" y="397.14" width="3.2" height="1" fill="#3a3a3a"/>
<rect x="59.1" y="395.92" width="3.2" height="1" fill="#3a3a3a"/>
<rect x="59.1" y="394.84" width="3.2" height="1" fill="#3a3a3a"/>
<rect x="53.8" y="414.82" width="8.5" height="1.2" fill="#333"/>
<text x="50.9" y="419.32" text-anchor="end" font-family="'Liberation Serif', serif" font-size="8.7" style="fill:#333;stroke:#333">10<tspan font-size="5.6" dy="-4.6">&#8722;1</tspan></text>
<line x1="79.5" y1="263.3" x2="99.5" y2="263.3" stroke="#222" stroke-width="1.3" fill="none"/>
<line x1="89.3" y1="263.3" x2="89.3" y2="294.3" stroke="#222" stroke-width="1.3" fill="none"/>
<rect x="79.2" y="294.3" width="20.6" height="40" stroke="#222" stroke-width="1.3" fill="none"/>
<line x1="79.2" y1="315.8" x2="99.8" y2="315.8" stroke="#222" stroke-width="1.3" fill="none"/>
<line x1="89.3" y1="334.3" x2="89.3" y2="415.2" stroke="#222" stroke-width="1.3" fill="none"/>
<line x1="79.5" y1="415.2" x2="99.5" y2="415.2" stroke="#222" stroke-width="1.3" fill="none"/>
<line x1="189.6" y1="310.3" x2="209.0" y2="310.3" stroke="#222" stroke-width="1.3" fill="none"/>
<line x1="199.2" y1="310.3" x2="199.2" y2="345.8" stroke="#222" stroke-width="1.3" fill="none"/>
<rect x="189.2" y="345.8" width="19.8" height="69.1" stroke="#222" stroke-width="1.3" fill="none"/>
<line x1="189.2" y1="357" x2="209" y2="357" stroke="#222" stroke-width="1.3" fill="none"/>
<text x="125.6" y="272.1" font-family="'Liberation Serif', serif" font-size="9.2" fill="#222"><tspan font-style="italic">P</tspan> &lt; .001</text>
<text x="66.2" y="435" font-family="'Liberation Serif', serif" font-size="10.6">Blast Crisis</text>
<text x="169.8" y="434.8" font-family="'Liberation Serif', serif" font-size="10.6">Chronic Phase</text>
</g>
</g>
</svg>
</body></html>
